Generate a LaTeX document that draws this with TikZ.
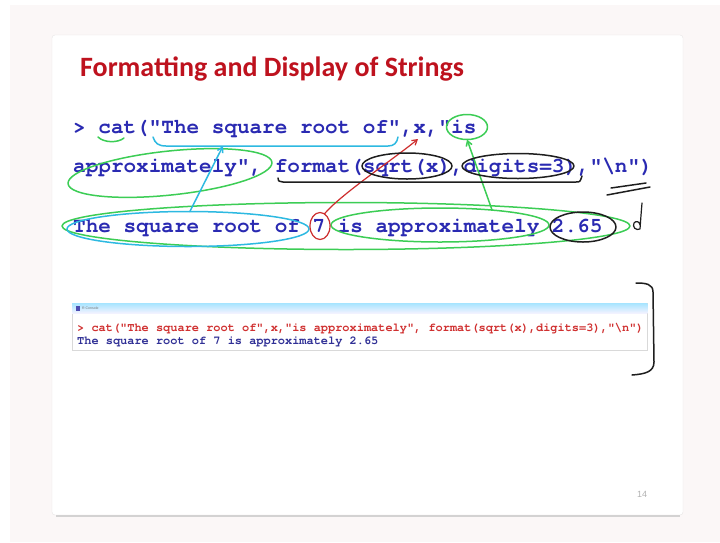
\documentclass[tikz,border=0pt]{standalone}
\usepackage{fontspec}
\setmainfont{Liberation Sans}
\newfontfamily\titlefont{Carlito}
\newfontfamily\codefont{TeX Gyre Cursor}
\usetikzlibrary{shapes.geometric,arrows.meta,calc}

\definecolor{titlered}{RGB}{190,18,30}
\definecolor{codeblue}{RGB}{42,42,178}
\definecolor{consred}{RGB}{208,48,48}
\definecolor{consblue}{RGB}{48,48,150}
\definecolor{penGreen}{RGB}{60,205,85}
\definecolor{penCyan}{RGB}{45,185,225}
\definecolor{penRed}{RGB}{205,45,45}
\definecolor{penInk}{RGB}{30,30,30}
\definecolor{outerbg}{RGB}{251,247,247}
\definecolor{cardedge}{RGB}{232,230,230}

\begin{document}
\begin{tikzpicture}[x=1pt,y=-1pt,
  pen/.style={line width=1.5pt,line cap=round,line join=round},
  ring/.style={ellipse,draw,pen,inner sep=0pt,outer sep=0pt},
  tip/.style={-{Straight Barb[length=5pt,width=6pt]}},
  code/.style={anchor=base west,inner sep=0pt,
    font=\codefont\bfseries\fontsize{21}{21}\selectfont,text=codeblue},
  ctext/.style={anchor=base west,inner sep=0pt,
    font=\codefont\bfseries\fontsize{11.95}{12}\selectfont}]

% page and slide card
\useasboundingbox (0,0) rectangle (720,542);
\fill[white] (0,0) rectangle (720,542);
\fill[outerbg] (10,5) rectangle (720,542);
\draw[cardedge,fill=white,rounded corners=3pt] (52,35) rectangle (683,515);
\draw[cardedge!80!gray,line width=1.2pt] (56,516) -- (680,516);

% title
\node[anchor=base west,inner sep=0pt,
  font=\titlefont\bfseries\fontsize{28}{28}\selectfont,text=titlered]
  (title) at (80,76) {Formatting and Display of Strings};

% code lines
\node[code] (l1) at (73,133) {> cat("The square root of",x,"is};
\node[code] (l2) at (73,172) {approximately", format(sqrt(x),digits=3),"\textbackslash n")};
\node[code] (l3) at (73,232) {The square root of 7 is approximately 2.65};

% console window
\node[draw=black!15,fill=white,anchor=north west,inner sep=0pt,
  minimum width=575pt,minimum height=47pt] (con) at (72,303) {};
\shade[top color=blue!30!cyan!35,bottom color=blue!5!white]
  (con.north west) rectangle ($(con.north east)+(0,10)$);
\fill[blue!40!gray] (76,305.5) rectangle (80,310.5);
\node[anchor=west,inner sep=0pt,font=\fontsize{3.5}{4}\selectfont,text=black!55]
  (ctitle) at (82,308) {R Console};
\node[ctext,text=consred] (c1) at (77,331)
  {> cat("The square root of",x,"is approximately", format(sqrt(x),digits=3),"\textbackslash n")};
\node[ctext,text=consblue] (c2) at (77,344)
  {The square root of 7 is approximately 2.65};

% page number
\node[font=\fontsize{9}{9}\selectfont,text=black!30] (pg) at (642,494) {14};

% ---- pen annotations ----
% green
\coordinate (catA) at (98,137);
\coordinate (catB) at (124,138);
\draw[pen,penGreen] (catA) .. controls (104,143) and (118,143) .. (catB);
\node[ring,draw=penGreen,minimum width=41pt,minimum height=25pt] (isE) at (467,127) {};
\node[ring,draw=penGreen,minimum width=205pt,minimum height=44pt,rotate=6] (apxE) at (170,173) {};
\node[ring,draw=penGreen,minimum width=568pt,minimum height=47pt] (lineE) at (346,226) {};
\node[ring,draw=penGreen,minimum width=218pt,minimum height=34pt] (isapxE) at (440,225) {};
\draw[pen,penGreen,tip] (isapxE.16) -- (isE.south);

% cyan
\coordinate (bL) at (153,137);
\coordinate (bR) at (398,137);
\coordinate (bM) at (223,146);
\draw[pen,penCyan] (bL) .. controls (155,143) and (158,146) .. (166,146)
  -- (388,146) .. controls (394,146) and (397,143) .. (bR);
\node[ring,draw=penCyan,minimum width=242pt,minimum height=35pt] (sqE) at (188,229) {};
\draw[pen,penCyan,tip] (sqE.84) -- (bM);

% red
\node[ring,draw=penRed,line width=1.2pt,minimum width=20pt,minimum height=27pt] (sevE) at (320,226) {};
\coordinate (xT) at (418,139);
\draw[pen,penRed,line width=1.2pt,tip] (sevE.70) .. controls (340,195) and (395,158) .. (xT);

% black
\node[ring,draw=penInk,minimum width=90pt,minimum height=26pt] (sqrtE) at (407,166) {};
\node[ring,draw=penInk,minimum width=112pt,minimum height=25pt] (digE) at (518,166) {};
\node[ring,draw=penInk,minimum width=66pt,minimum height=30pt] (numE) at (583,227) {};
\coordinate (uL) at (278,178);
\coordinate (uR) at (582,176);
\draw[pen,penInk] (uL) .. controls (278,181) .. (283,182) -- (576,182) .. controls (580,182) .. (uR);
\coordinate (eqA1) at (611,188);
\coordinate (eqA2) at (646,183);
\coordinate (eqB1) at (607,195);
\coordinate (eqB2) at (650,187);
\draw[pen,penInk] (eqA1) -- (eqA2);
\draw[pen,penInk] (eqB1) -- (eqB2);
\coordinate (dT) at (642,203);
\draw[pen,penInk,line width=1.2pt] (dT) .. controls (641,215) .. (640,229)
  .. controls (636,231) and (632,227) .. (634,223) .. controls (636,220) and (640,222) .. (640,225);
\coordinate (brT) at (636,283);
\coordinate (brB) at (632,375);
\draw[pen,penInk] (brT) .. controls (646,283) and (653,284) .. (653,292)
  -- (654,362) .. controls (654,372) and (645,374) .. (brB);
\end{tikzpicture}
\end{document}
